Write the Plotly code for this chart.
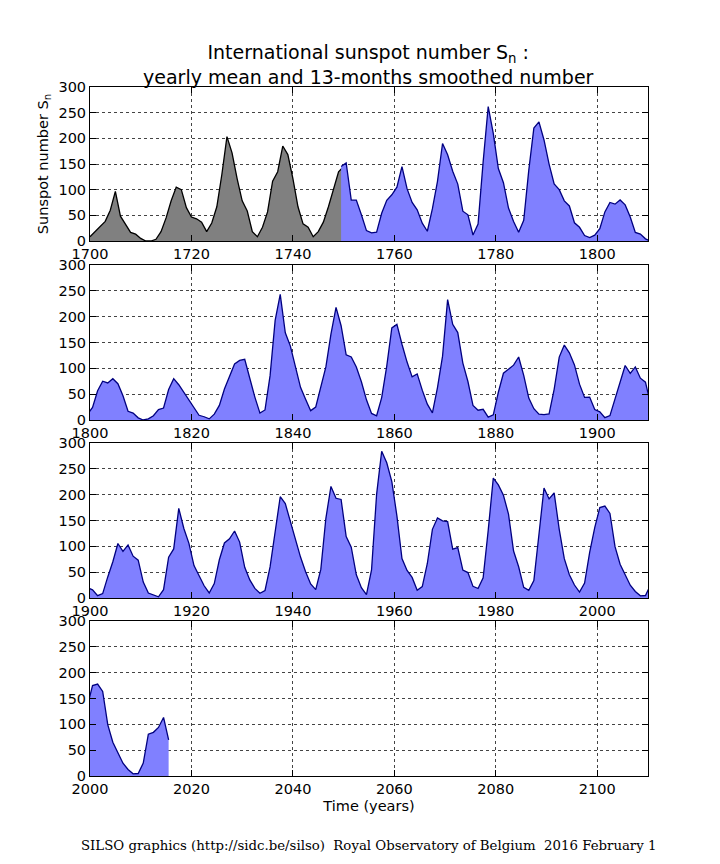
import plotly.graph_objects as go

grey_years = list(range(1700, 1751))
grey_values = [8.3,18.3,26.7,38.3,60.0,96.7,48.3,33.3,16.7,13.3,5.0,0.0,0.0,3.3,18.3,45.0,78.3,105.0,100.0,65.0,
               46.7,43.3,36.7,18.3,35.0,66.7,130.0,203.3,171.7,121.7,78.3,58.3,18.3,8.3,26.7,56.7,116.7,135.0,185.0,168.3,
               121.7,66.7,33.3,26.7,8.3,18.3,36.7,66.7,100.0,134.8,145.0]

blue_years = [y + 0.5 for y in range(1749, 2016)]
blue_values = [145.0,152.0,79.5,79.7,51.2,20.3,16.0,17.0,54.0,79.3,90.0,104.8,145.0,102.0,75.2,60.7,34.8,19.0,63.0,116.3,
               190.0,168.0,136.0,110.8,58.0,51.0,11.7,33.0,154.2,262.0,209.8,141.3,113.5,64.2,38.0,17.0,40.2,138.2,220.0,232.0,
               196.8,149.8,111.0,100.0,78.2,68.3,35.5,26.7,10.7,6.8,11.3,24.2,56.7,75.0,71.8,80.0,70.3,46.8,16.8,13.5,
               4.2,0.0,2.3,8.3,20.3,23.2,59.0,80.0,68.3,52.9,38.5,24.2,9.2,6.3,2.2,11.4,28.2,59.9,83.0,108.5,
               115.2,117.4,80.8,44.3,13.4,19.5,85.8,192.7,243.0,168.7,143.0,105.5,63.3,40.3,18.1,25.1,65.8,102.7,166.3,218.0,
               182.5,126.3,122.0,102.7,74.1,39.0,12.7,8.2,43.4,104.4,178.3,185.0,146.6,112.1,83.5,89.2,57.8,30.7,13.9,62.8,
               123.6,233.0,185.3,169.2,110.1,74.5,28.3,18.9,20.7,5.7,10.0,53.7,90.5,99.0,106.1,122.0,86.3,42.4,21.8,11.2,
               10.4,11.8,59.5,121.7,145.0,130.0,106.6,69.4,43.8,44.4,20.2,15.7,4.6,8.5,40.8,70.1,105.5,90.1,102.8,80.9,
               73.2,30.9,9.5,6.0,2.4,16.1,79.0,95.0,173.6,134.6,105.7,62.7,43.5,23.7,9.7,27.9,74.0,106.5,114.7,129.7,
               108.2,59.4,35.1,18.6,9.2,14.6,60.2,132.8,196.0,182.6,148.0,113.0,79.2,50.8,27.1,16.1,55.3,154.3,216.0,193.0,
               190.7,118.9,98.3,45.0,20.1,6.6,54.2,200.7,284.0,261.7,225.1,159.0,76.4,53.4,39.9,15.0,22.0,66.8,132.9,155.0,
               149.4,148.0,94.4,97.6,54.1,49.2,22.5,18.4,39.3,131.0,232.0,218.9,198.9,162.4,91.0,60.5,20.6,14.8,33.9,123.0,
               213.0,191.8,203.3,133.0,76.1,44.9,25.1,11.6,28.9,88.3,136.3,175.0,178.0,163.6,99.3,65.3,45.8,24.7,12.6,4.2,
               4.8,24.9,80.8,84.5,94.0,113.3,69.8]

panel_starts = [1700, 1800, 1900, 2000]
y_ticks = [0, 50, 100, 150, 200, 250, 300]

doms = [(79, 233), (257, 412), (435, 590), (613, 768)]
H = 864
W = 720
fig = go.Figure()
font = dict(family="DejaVu Sans", size=14.5, color="black")
for i, (s, (t, b)) in enumerate(zip(panel_starts, doms)):
    n = "" if i == 0 else str(i + 1)
    xa, ya = "x" + n, "y" + n
    if i == 0:
        fig.add_trace(go.Scatter(x=grey_years, y=grey_values, mode="lines", fill="tozeroy",
                                 line=dict(color="black", width=1.3), fillcolor="#808080",
                                 xaxis=xa, yaxis=ya, showlegend=False))
    fig.add_trace(go.Scatter(x=blue_years, y=blue_values, mode="lines", fill="tozeroy",
                             line=dict(color="#000080", width=1.3), fillcolor="#8080ff",
                             xaxis=xa, yaxis=ya, showlegend=False))
    axcommon = dict(showline=True, mirror="ticks", linecolor="black", linewidth=1,
                    ticks="inside", ticklen=6, tickcolor="black", showgrid=True,
                    gridcolor="#444", griddash="dot", gridwidth=0.5, zeroline=False,
                    tickfont=font, automargin=False)
    fig.layout["xaxis" + n] = dict(domain=[82 / W, 640 / W], range=[s, s + 110], dtick=20,
                                   anchor=ya, ticklabelstandoff=0, **axcommon)
    fig.layout["yaxis" + n] = dict(domain=[1 - b / H, 1 - t / H], range=[0, 300],
                                   tickvals=y_ticks, anchor=xa, **axcommon)

fig.layout.yaxis.title = dict(text="Sunspot number S<sub>n</sub>", font=font, standoff=6)
fig.layout.xaxis4.title = dict(text="Time (years)", font=font, standoff=4)

fig.add_annotation(x=0.5, y=1 - 31 / H, xref="paper", yref="paper", showarrow=False,
                   text="International sunspot number S<sub>n</sub> :<br>yearly mean and 13-months smoothed number",
                   font=dict(family="DejaVu Sans", size=19, color="black"))
fig.add_annotation(x=0.5, y=1 - 847 / H, xref="paper", yref="paper", showarrow=False,
                   text="SILSO graphics (http://sidc.be/silso)  Royal Observatory of Belgium  2016 February 1",
                   font=dict(family="DejaVu Serif", size=13.3, color="black"))

fig.update_layout(width=720, height=864, margin=dict(l=0, r=0, t=0, b=0),
                  plot_bgcolor="white", paper_bgcolor="white")
fig.write_html("out.html")
